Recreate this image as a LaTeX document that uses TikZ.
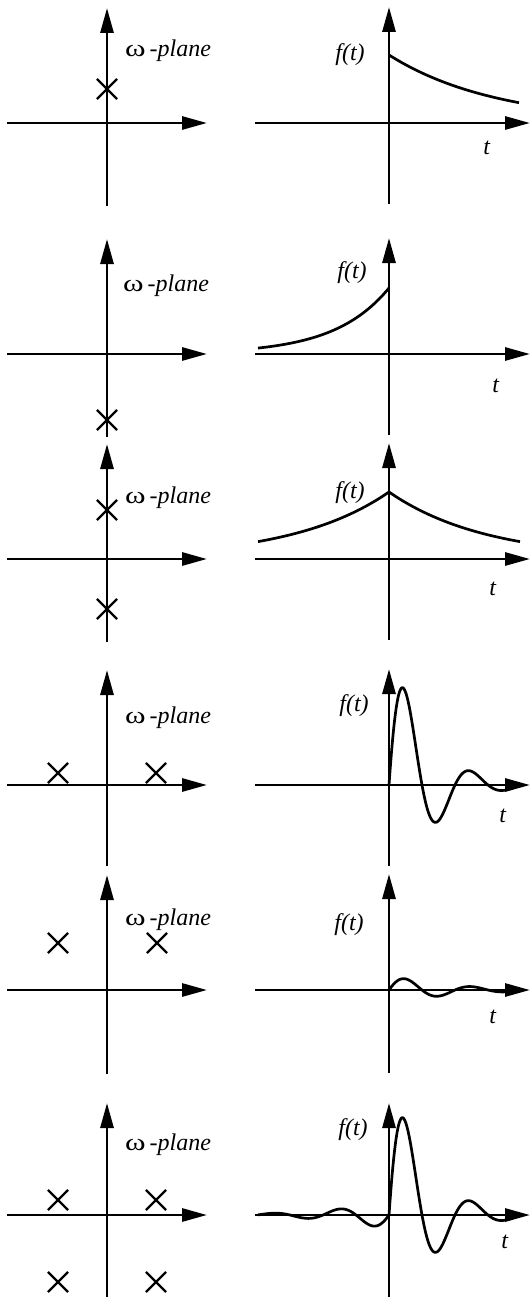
\documentclass[tikz,border=0pt]{standalone}
\usepackage{fontspec}
\usepackage{graphicx}
\setmainfont{Liberation Serif}
\usetikzlibrary{arrows.meta,shapes.misc}

\newcommand{\wplane}{\scalebox{1.3}[1]{ω}\,\textit{-plane}}

\begin{document}
\begin{tikzpicture}[x=1pt,y=1pt,>={Triangle[length=25pt,width=13pt]},
  axis/.style={->,line width=2.9pt},
  sig/.style={line width=2.7pt,samples=250},
  pole/.style={cross out,draw,line width=2.2pt,minimum size=18pt,inner sep=0pt},
  lbl/.style={font=\fontsize{24}{28}\selectfont}]
  \useasboundingbox (0,0) rectangle (531,-1297);

  % row 1: one pole on the upper axis
  \begin{scope}[shift={(107,-123)}]
    \draw[axis] (-100,0) -- (100,0);
    \draw[axis] (0,-83) -- (0,115);
    \node[pole] (p1) at (0,34) {};
    \node[lbl] (w1) at (61,72) {\wplane};
  \end{scope}
  \begin{scope}[shift={(389,-123)}]
    \draw[axis] (-134,0) -- (141,0);
    \draw[axis] (0,-81) -- (0,116);
    \draw[sig,domain=0:130] plot (\x,{68*exp(-0.0093*\x)});
    \node[lbl] (f1) at (-39,68) {\textit{f(t)}};
    \node[lbl] (t1) at (98,-25) {\textit{t}};
  \end{scope}

  % row 2: one pole on the lower axis
  \begin{scope}[shift={(107,-354)}]
    \draw[axis] (-100,0) -- (100,0);
    \draw[axis] (0,-83) -- (0,115);
    \node[pole] (p2) at (0,-66) {};
    \node[lbl] (w2) at (59,68) {\wplane};
  \end{scope}
  \begin{scope}[shift={(389,-354)}]
    \draw[axis] (-134,0) -- (141,0);
    \draw[axis] (0,-81) -- (0,116);
    \draw[sig,domain=-131:0] plot (\x,{66*exp(0.0184*\x)});
    \node[lbl] (f2) at (-37,81) {\textit{f(t)}};
    \node[lbl] (t2) at (107,-32) {\textit{t}};
  \end{scope}

  % row 3: poles above and below
  \begin{scope}[shift={(107,-559)}]
    \draw[axis] (-100,0) -- (100,0);
    \draw[axis] (0,-83) -- (0,115);
    \node[pole] (p3a) at (0,49) {};
    \node[pole] (p3b) at (0,-50) {};
    \node[lbl] (w3) at (61,61) {\wplane};
  \end{scope}
  \begin{scope}[shift={(389,-559)}]
    \draw[axis] (-134,0) -- (141,0);
    \draw[axis] (0,-81) -- (0,116);
    \draw[sig,domain=-131:0] plot (\x,{67*exp(0.0103*\x)});
    \draw[sig,domain=0:131] plot (\x,{67*exp(-0.0103*\x)});
    \node[lbl] (f3) at (-39,66) {\textit{f(t)}};
    \node[lbl] (t3) at (104,-30) {\textit{t}};
  \end{scope}

  % row 4: pair close to the real axis
  \begin{scope}[shift={(107,-785)}]
    \draw[axis] (-100,0) -- (100,0);
    \draw[axis] (0,-81) -- (0,115);
    \node[pole] (p4a) at (-49,12) {};
    \node[pole] (p4b) at (49,12) {};
    \node[lbl] (w4) at (61,67) {\wplane};
  \end{scope}
  \begin{scope}[shift={(389,-785)}]
    \draw[axis] (-134,0) -- (141,0);
    \draw[axis] (0,-81) -- (0,116);
    \draw[sig,domain=0:125] plot (\x,{150*exp(-0.029*\x)*sin(5.4545*\x)});
    \node[lbl] (f4) at (-35,79) {\textit{f(t)}};
    \node[lbl] (t4) at (114,-31) {\textit{t}};
  \end{scope}

  % row 5: pair far above the real axis
  \begin{scope}[shift={(107,-990)}]
    \draw[axis] (-100,0) -- (100,0);
    \draw[axis] (0,-84) -- (0,115);
    \node[pole] (p5a) at (-49,47) {};
    \node[pole] (p5b) at (50,47) {};
    \node[lbl] (w5) at (61,70) {\wplane};
  \end{scope}
  \begin{scope}[shift={(389,-990)}]
    \draw[axis] (-134,0) -- (141,0);
    \draw[axis] (0,-83) -- (0,116);
    \draw[sig,domain=0:120] plot (\x,{15*exp(-0.018*\x)*sin(5.4545*\x)});
    \node[lbl] (f5) at (-40,65) {\textit{f(t)}};
    \node[lbl] (t5) at (104,-27) {\textit{t}};
  \end{scope}

  % row 6: four poles
  \begin{scope}[shift={(107,-1215)}]
    \draw[axis] (-100,0) -- (100,0);
    \draw[axis] (0,-84) -- (0,112);
    \node[pole] (p6a) at (-49,15) {};
    \node[pole] (p6b) at (49,15) {};
    \node[pole] (p6c) at (-49,-67) {};
    \node[pole] (p6d) at (49,-67) {};
    \node[lbl] (w6) at (61,70) {\wplane};
  \end{scope}
  \begin{scope}[shift={(389,-1215)}]
    \draw[axis] (-134,0) -- (141,0);
    \draw[axis] (0,-84) -- (0,112);
    \draw[sig,domain=-131:0] plot (\x,{14.7*exp(0.018*\x)*sin(5.4545*\x)});
    \draw[sig,domain=0:125] plot (\x,{150*exp(-0.029*\x)*sin(5.4545*\x)});
    \node[lbl] (f6) at (-36,85) {\textit{f(t)}};
    \node[lbl] (t6) at (116,-27) {\textit{t}};
  \end{scope}
\end{tikzpicture}
\end{document}
